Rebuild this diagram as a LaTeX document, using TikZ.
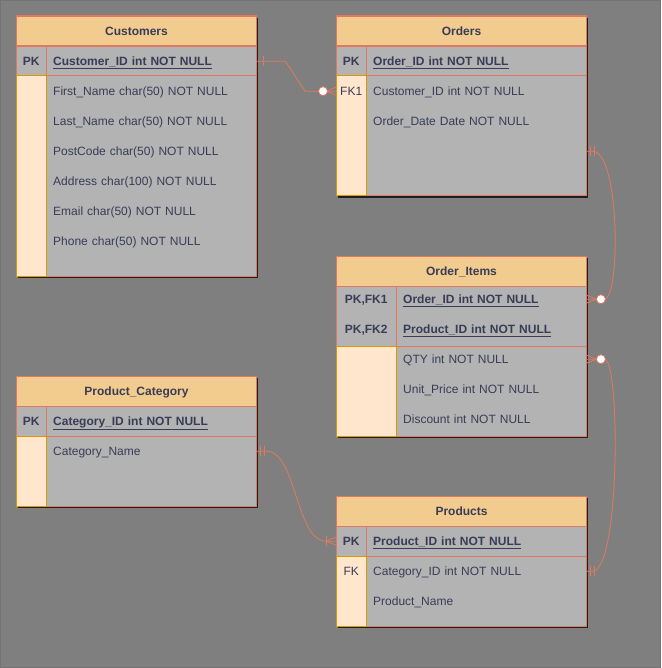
\documentclass[tikz,border=0pt]{standalone}
\usepackage{fontspec}
\setmainfont{Liberation Sans}
\usetikzlibrary{calc}
\definecolor{bgc}{HTML}{7F7F7F}
\definecolor{hdrc}{HTML}{F2CC8F}
\definecolor{bodyc}{HTML}{B3B3B3}
\definecolor{peachc}{HTML}{FFE6CC}
\definecolor{goldc}{HTML}{D79B00}
\definecolor{edgec}{HTML}{E07A5F}
\definecolor{txtc}{HTML}{393C56}
\tikzset{
  hdr/.style={rectangle, fill=hdrc, draw=edgec, line width=1pt, minimum height=30pt, inner sep=0pt,
    text height=10pt, text depth=1.4pt,
    font=\fontsize{12}{14}\selectfont\bfseries, text=txtc, anchor=north west},
  keylab/.style={rectangle, minimum height=30pt, inner sep=0pt, text height=10pt, text depth=1.4pt,
    font=\fontsize{12}{14}\selectfont\bfseries, text=txtc, anchor=north west},
  fklab/.style={rectangle, minimum height=30pt, inner sep=0pt, text height=10pt, text depth=1.4pt,
    font=\fontsize{12}{14}\selectfont, text=txtc, anchor=north west},
  keyname/.style={rectangle, minimum height=30pt, inner xsep=7pt, inner ysep=0pt, align=left,
    text height=10pt, text depth=1.4pt,
    font=\fontsize{12}{14}\selectfont\bfseries, text=txtc, anchor=north west},
  attr/.style={rectangle, minimum height=30pt, inner xsep=7pt, inner ysep=0pt, align=left,
    text height=10pt, text depth=1.4pt,
    font=\fontsize{12}{14}\selectfont, text=txtc, anchor=north west},
  shadowbox/.style={fill=black, opacity=0.75},
  bodybox/.style={fill=bodyc},
  framebox/.style={draw=edgec, line width=1pt},
  peachcol/.style={fill=peachc, draw=goldc, line width=1pt},
  conn/.style={draw=edgec, line width=0.8pt},
  zeromark/.style={draw=edgec, fill=white, line width=0.8pt},
}
\begin{document}
\begin{tikzpicture}[x=1pt,y=-1pt]
\useasboundingbox (0,0) rectangle (661,668);
\fill[bgc] (0,0) rectangle (661,668);
\draw[black!55, line width=1pt] (0.5,0.5) rectangle (660.5,667.5);

% ---------------- Customers ----------------
\fill[shadowbox] (18,18) rectangle (258,278);
\fill[bodybox] (16,16) rectangle (256,276);
\node[hdr, minimum width=240pt] (cust) at (16,16) {Customers};
\draw[framebox] (16,46) rectangle (256,76);
\draw[framebox] (46,46) -- (46,76);
\node[keylab, minimum width=30pt] (cpkk) at (16,46) {PK};
\node[keyname, minimum width=210pt, text width=196pt] (cpk) at (46,46) {\underline{Customer\_ID int NOT NULL}};
\draw[framebox] (16,16) rectangle (256,276);
\draw[peachcol] (16,76) rectangle (46,276);
\node[attr, minimum width=210pt, text width=196pt] (c1) at (46,76) {First\_Name char(50) NOT NULL};
\node[attr, minimum width=210pt, text width=196pt] (c2) at (46,106) {Last\_Name char(50) NOT NULL};
\node[attr, minimum width=210pt, text width=196pt] (c3) at (46,136) {PostCode char(50) NOT NULL};
\node[attr, minimum width=210pt, text width=196pt] (c4) at (46,166) {Address char(100) NOT NULL};
\node[attr, minimum width=210pt, text width=196pt] (c5) at (46,196) {Email char(50) NOT NULL};
\node[attr, minimum width=210pt, text width=196pt] (c6) at (46,226) {Phone char(50) NOT NULL};

% ---------------- Orders ----------------
\fill[shadowbox] (338,18) rectangle (588,198);
\fill[bodybox] (336,16) rectangle (586,196);
\node[hdr, minimum width=250pt] (ord) at (336,16) {Orders};
\draw[framebox] (336,46) rectangle (586,76);
\draw[framebox] (366,46) -- (366,76);
\node[keylab, minimum width=30pt] (opkk) at (336,46) {PK};
\node[keyname, minimum width=220pt, text width=206pt] (opk) at (366,46) {\underline{Order\_ID int NOT NULL}};
\draw[framebox] (336,16) rectangle (586,196);
\draw[peachcol] (336,76) rectangle (366,196);
\node[fklab, minimum width=30pt] (ofk) at (336,76) {FK1};
\node[attr, minimum width=220pt, text width=206pt] (o1) at (366,76) {Customer\_ID int NOT NULL};
\node[attr, minimum width=220pt, text width=206pt] (o2) at (366,106) {Order\_Date Date NOT NULL};
\node[attr, minimum width=220pt, text width=206pt] (oblank) at (366,136) {};

% ---------------- Order_Items ----------------
\fill[shadowbox] (338,258) rectangle (588,438);
\fill[bodybox] (336,256) rectangle (586,436);
\node[hdr, minimum width=250pt] (oitems) at (336,256) {Order\_Items};
\draw[framebox] (336,286) rectangle (586,346);
\draw[framebox] (396,286) -- (396,346);
\node[keylab, minimum width=60pt] (oik1) at (336,284) {PK,FK1};
\node[keyname, minimum width=190pt, text width=176pt] (oi1) at (396,284) {\underline{Order\_ID int NOT NULL}};
\node[keylab, minimum width=60pt] (oik2) at (336,314) {PK,FK2};
\node[keyname, minimum width=190pt, text width=176pt] (oi2) at (396,314) {\underline{Product\_ID int NOT NULL}};
\draw[framebox] (336,256) rectangle (586,436);
\draw[peachcol] (336,346) rectangle (396,436);
\node[attr, minimum width=190pt, text width=176pt] (oi3) at (396,344) {QTY int NOT NULL};
\node[attr, minimum width=190pt, text width=176pt] (oi4) at (396,374) {Unit\_Price int NOT NULL};
\node[attr, minimum width=190pt, text width=176pt] (oi5) at (396,404) {Discount int NOT NULL};

% ---------------- Product_Category ----------------
\fill[shadowbox] (18,378) rectangle (258,508);
\fill[bodybox] (16,376) rectangle (256,506);
\node[hdr, minimum width=240pt] (pcat) at (16,376) {Product\_Category};
\draw[framebox] (16,406) rectangle (256,436);
\draw[framebox] (46,406) -- (46,436);
\node[keylab, minimum width=30pt] (pcpkk) at (16,406) {PK};
\node[keyname, minimum width=210pt, text width=196pt] (pcpk) at (46,406) {\underline{Category\_ID int NOT NULL}};
\draw[framebox] (16,376) rectangle (256,506);
\draw[peachcol] (16,436) rectangle (46,506);
\node[attr, minimum width=210pt, text width=196pt] (pc1) at (46,436) {Category\_Name};

% ---------------- Products ----------------
\fill[shadowbox] (338,498) rectangle (588,628);
\fill[bodybox] (336,496) rectangle (586,626);
\node[hdr, minimum width=250pt] (prod) at (336,496) {Products};
\draw[framebox] (336,526) rectangle (586,556);
\draw[framebox] (366,526) -- (366,556);
\node[keylab, minimum width=30pt] (ppkk) at (336,526) {PK};
\node[keyname, minimum width=220pt, text width=206pt] (ppk) at (366,526) {\underline{Product\_ID int NOT NULL}};
\draw[framebox] (336,496) rectangle (586,626);
\draw[peachcol] (336,556) rectangle (366,626);
\node[fklab, minimum width=30pt] (pfkk) at (336,556) {FK};
\node[attr, minimum width=220pt, text width=206pt] (pfk) at (366,556) {Category\_ID int NOT NULL};
\node[attr, minimum width=220pt, text width=206pt] (p2) at (366,586) {Product\_Name};

% ---------------- Connectors ----------------
% Customers -> Orders
\draw[conn] (cpk.east) -- ++(29,0) -- ($(ofk.west)+(-31,0)$) -- (ofk.west);
\draw[conn] ($(cpk.east)+(7,-5)$) -- ++(0,10);
\draw[conn] ($(ofk.west)+(-9,0)$) -- ($(ofk.west)+(0,-4)$);
\draw[conn] ($(ofk.west)+(-9,0)$) -- ($(ofk.west)+(0,4)$);
\draw[zeromark] ($(ofk.west)+(-13,0)$) circle (4.5);

% Orders -> Order_Items
\draw[conn] (oblank.east) -- ++(6,0) .. controls +(28,0) and +(16,0) .. ($(oi1.east)+(18,0)$) -- (oi1.east);
\draw[conn] ($(oblank.east)+(4,-5)$) -- ++(0,10);
\draw[conn] ($(oblank.east)+(8,-5)$) -- ++(0,10);
\draw[conn] ($(oi1.east)+(10,0)$) -- ($(oi1.east)+(0,-4)$);
\draw[conn] ($(oi1.east)+(10,0)$) -- ($(oi1.east)+(0,4)$);
\draw[zeromark] ($(oi1.east)+(14.5,0)$) circle (4.5);

% Order_Items -> Products
\draw[conn] (oi3.east) -- ++(18,0) .. controls +(16,0) and +(28,0) .. ($(pfk.east)+(6,0)$) -- (pfk.east);
\draw[conn] ($(pfk.east)+(4,-5)$) -- ++(0,10);
\draw[conn] ($(pfk.east)+(8,-5)$) -- ++(0,10);
\draw[conn] ($(oi3.east)+(10,0)$) -- ($(oi3.east)+(0,-4)$);
\draw[conn] ($(oi3.east)+(10,0)$) -- ($(oi3.east)+(0,4)$);
\draw[zeromark] ($(oi3.east)+(14.5,0)$) circle (4.5);

% Product_Category -> Products
\draw[conn] (pc1.east) -- ++(10,0) .. controls +(30,0) and +(-30,0) .. ($(ppkk.west)+(-10,0)$) -- (ppkk.west);
\draw[conn] ($(pc1.east)+(4,-5)$) -- ++(0,10);
\draw[conn] ($(pc1.east)+(8,-5)$) -- ++(0,10);
\draw[conn] ($(ppkk.west)+(-10,-5)$) -- ++(0,10);
\draw[conn] ($(ppkk.west)+(-10,0)$) -- ($(ppkk.west)+(0,-4)$);
\draw[conn] ($(ppkk.west)+(-10,0)$) -- ($(ppkk.west)+(0,4)$);
\end{tikzpicture}
\end{document}
